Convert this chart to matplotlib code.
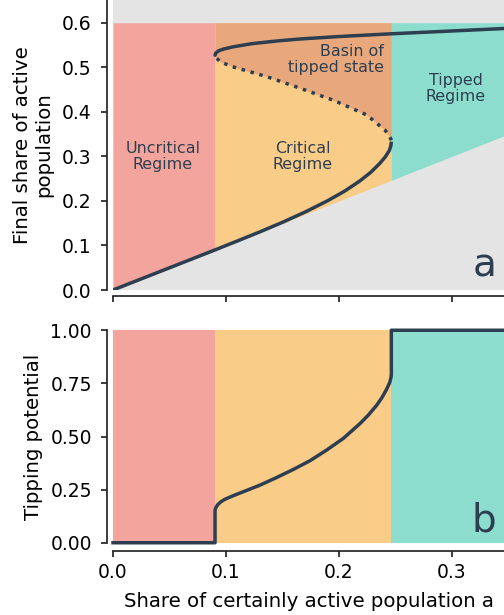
import matplotlib.pyplot as plt

# regime boundaries on the share of certainly active population a
a_low = 0.0903
a_high = 0.2463
a_right = 0.346

# panel a: equilibria of the final share of active population
lower_a = [0.0, 0.0903, 0.11, 0.13, 0.15, 0.17, 0.19, 0.205, 0.218, 0.228,
           0.236, 0.241, 0.2445, 0.2458, 0.2463]
lower_x = [0.0, 0.0900, 0.110, 0.1305, 0.152, 0.175, 0.2005, 0.222, 0.244, 0.264,
           0.284, 0.299, 0.313, 0.323, 0.333]

mid_a = [0.2463, 0.2457, 0.2407, 0.2245, 0.195, 0.1655, 0.136, 0.106, 0.095, 0.0903]
mid_x = [0.336, 0.340, 0.359, 0.393, 0.426, 0.453, 0.479, 0.501, 0.512, 0.524]

upper_a = [0.0903, 0.091, 0.0935, 0.098, 0.1065, 0.123, 0.145, 0.1655, 0.2, 0.245, 0.3, 0.346]
upper_x = [0.527, 0.532, 0.537, 0.541, 0.546, 0.553, 0.559, 0.5635, 0.569, 0.575, 0.5815, 0.587]

# panel b: tipping potential
tip_a = [0.0, 0.0903, 0.0903, 0.0910, 0.0925, 0.0950, 0.0985, 0.1030, 0.1100, 0.1153,
         0.130, 0.1448, 0.1596, 0.1743, 0.189, 0.2038, 0.2186, 0.2260, 0.2333, 0.2380,
         0.2421, 0.2450, 0.2460, 0.2463, 0.2463, 0.346]
tip_p = [0.0, 0.0, 0.154, 0.165, 0.178, 0.191, 0.203, 0.214, 0.229, 0.240,
         0.271, 0.307, 0.345, 0.386, 0.436, 0.491, 0.561, 0.601, 0.647, 0.683,
         0.722, 0.756, 0.778, 0.792, 1.0, 1.0]

top = 0.6
col_line = '#2c3e50'
col_red = '#f3a59d'
col_orange = '#f9cc88'
col_teal = '#8cddcd'
col_basin = '#e8a87c'
col_gray = '#e4e4e4'
ink = '#262626'

plt.rcParams['font.family'] = 'DejaVu Sans'
fig = plt.figure(figsize=(5.04, 6.15), dpi=100)
W, H = 504, 615
ax1 = fig.add_axes([113 / W, 325 / H, 391 / W, 290 / H])
ax2 = fig.add_axes([113 / W, 68 / H, 391 / W, 221 / H])

line_kw = dict(color=col_line, lw=2.5, solid_joinstyle='round')

# --- panel a ---
ax1.fill_between([0, a_right], 0, 0.7, color=col_gray, lw=0)
ax1.fill_between([0, a_low], [0, a_low], top, color=col_red, lw=0)
ax1.fill_between([a_low, a_high], [a_low, a_high], top, color=col_orange, lw=0)
ax1.fill_between([a_high, a_right], [a_high, a_right], top, color=col_teal, lw=0)
ax1.fill_between(mid_a[::-1], mid_x[::-1], top, color=col_basin, lw=0)

ax1.plot(lower_a, lower_x, solid_capstyle='butt', **line_kw)
ax1.plot(upper_a, upper_x, solid_capstyle='round', **line_kw)
ax1.plot(mid_a, mid_x, ls=':', **line_kw)

lab = dict(color=col_line, fontsize=11.4, linespacing=1.1)
ax1.text(0.044, 0.30, 'Uncritical\nRegime', ha='center', va='center', **lab)
ax1.text(0.168, 0.30, 'Critical\nRegime', ha='center', va='center', **lab)
ax1.text(0.2395, 0.518, 'Basin of\ntipped state', ha='right', va='center', **lab)
ax1.text(0.3035, 0.453, 'Tipped\nRegime', ha='center', va='center', **lab)
ax1.text(0.339, 0.03, 'a', ha='right', va='baseline', color=col_line, fontsize=28)

ax1.set_xlim(0, a_right)
ax1.set_ylim(0, 0.651)
ax1.set_yticks([0.0, 0.1, 0.2, 0.3, 0.4, 0.5, 0.6])
ax1.set_xticks([0.0, 0.1, 0.2, 0.3])
ax1.set_xticklabels([])
ax1.set_ylabel('Final share of active\npopulation', fontsize=14.2, labelpad=6)

# --- panel b ---
ax2.fill_between([0, a_low], 0, 1, color=col_red, lw=0)
ax2.fill_between([a_low, a_high], 0, 1, color=col_orange, lw=0)
ax2.fill_between([a_high, a_right], 0, 1, color=col_teal, lw=0)
ax2.plot(tip_a, tip_p, clip_on=False, **line_kw)
ax2.text(0.339, 0.055, 'b', ha='right', va='baseline', color=col_line, fontsize=28)

ax2.set_xlim(0, a_right)
ax2.set_ylim(-0.02, 1.02)
ax2.set_yticks([0.0, 0.25, 0.5, 0.75, 1.0])
ax2.set_yticklabels(['0.00', '0.25', '0.50', '0.75', '1.00'])
ax2.set_xticks([0.0, 0.1, 0.2, 0.3])
ax2.set_xticklabels(['0.0', '0.1', '0.2', '0.3'])
ax2.set_ylabel('Tipping potential', fontsize=14.2, labelpad=5)
ax2.set_xlabel('Share of certainly active population a', fontsize=14.2, labelpad=7)

for ax, ylo, yhi, off_b in [(ax1, 0, 0.651, 4.3), (ax2, 0, 1, 2.9)]:
    ax.set_facecolor('white')
    ax.spines['top'].set_visible(False)
    ax.spines['right'].set_visible(False)
    ax.spines['left'].set_position(('outward', 4.3))
    ax.spines['bottom'].set_position(('outward', off_b))
    ax.spines['left'].set_bounds(ylo, yhi)
    ax.spines['bottom'].set_bounds(0, a_right)
    for s in ('left', 'bottom'):
        ax.spines[s].set_color(ink)
        ax.spines[s].set_linewidth(1.25)
    ax.tick_params(colors=ink, labelcolor='black', width=1.25, length=4.5,
                   labelsize=13.5, pad=4)
    ax.tick_params(axis='y', pad=6.5)

fig.savefig('out.png', dpi=100)
